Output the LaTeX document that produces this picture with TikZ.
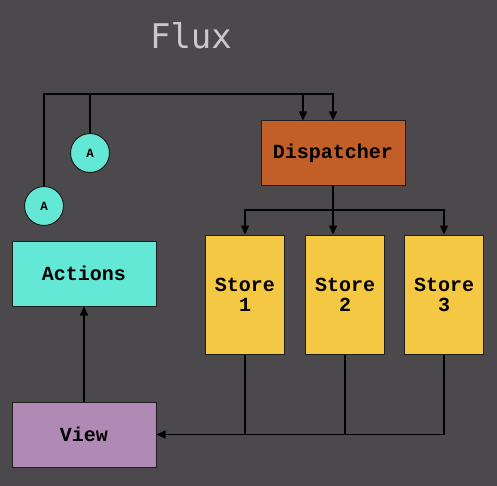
\documentclass[tikz,border=0pt]{standalone}
\usepackage{fontspec}
\usetikzlibrary{arrows.meta}
\newfontfamily\lblfont{Liberation Mono}
\newfontfamily\titlefont{DejaVu Sans Mono}
\definecolor{bgc}{HTML}{4B494C}
\definecolor{dispc}{HTML}{C25F28}
\definecolor{storec}{HTML}{F4C842}
\definecolor{actc}{HTML}{62E8D4}
\definecolor{viewc}{HTML}{B08AB5}
\definecolor{titlec}{HTML}{C9C8CC}
\definecolor{edgec}{HTML}{1E1E1E}
\tikzset{
  box/.style={draw=edgec, line width=1pt, rectangle, inner sep=0pt, font=\lblfont\bfseries\fontsize{20}{20}\selectfont, text=black},
  bigbox/.style={box, minimum width=144pt, minimum height=65pt},
  storebox/.style={box, fill=storec, minimum width=79pt, minimum height=119pt, align=center},
  actcircle/.style={draw=edgec, line width=1pt, circle, fill=actc, minimum size=39pt, inner sep=0pt, font=\lblfont\bfseries\fontsize{12.5}{13}\selectfont},
  conn/.style={draw=black, line width=1.5pt},
  arr/.style={conn, -{Triangle[length=9pt, width=8pt]}},
}
\begin{document}
\begin{tikzpicture}[x=1pt, y=-1pt]
\fill[bgc] (0,0) rectangle (497,486);
\useasboundingbox (0,0) rectangle (497,486);
\node[font=\titlefont\fontsize{34}{36}\selectfont, text=titlec] (title) at (191,36) {Flux};
\node[bigbox, fill=dispc] (disp) at (333,153.5) {Dispatcher};
\node[bigbox, fill=actc] (actions) at (84,273.5) {Actions};
\node[bigbox, fill=viewc] (view) at (84,434.5) {View};
\node[storebox] (s1) at (245,294.5) {Store\\1};
\node[storebox] (s2) at (345,294.5) {Store\\2};
\node[storebox] (s3) at (444,294.5) {Store\\3};
\node[actcircle] (a1) at (90,153) {A};
\node[actcircle] (a2) at (44,206) {A};
\coordinate (bus) at (0,94);
\coordinate (dbus) at (0,210);
% actions to dispatcher
\draw[arr] (a2.north) -- (a2.north |- bus) -| ([xshift=-30pt]disp.north);
\draw[arr] (a1.north) -- (a1.north |- bus) -| (disp.north);
% dispatcher to stores
\draw[arr] (disp.south) -- (disp.south |- s2.north);
\draw[arr] (disp.south) -- (disp.south |- dbus) -| (s1.north);
\draw[arr] (disp.south) -- (disp.south |- dbus) -| (s3.north);
% stores to view
\draw[arr] (s3.south) |- (view.east);
\draw[conn] (s1.south) -- (s1.south |- view.east);
\draw[conn] (s2.south) -- (s2.south |- view.east);
% view to actions
\draw[arr] (view.north) -- (actions.south);
\end{tikzpicture}
\end{document}
